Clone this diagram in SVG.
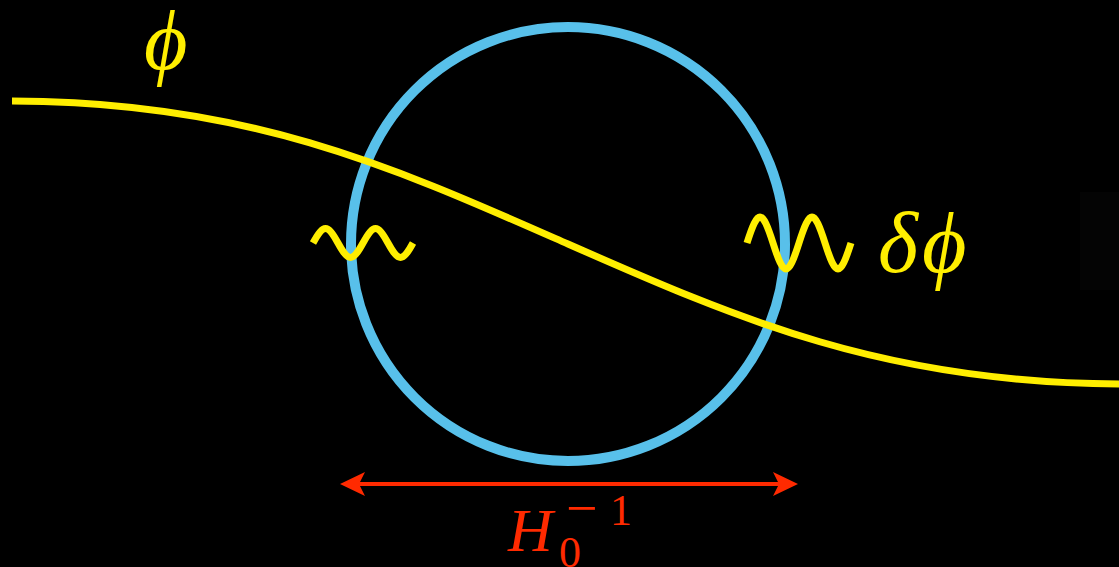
<svg xmlns="http://www.w3.org/2000/svg" width="1119" height="567" viewBox="0 0 1119 567">
<style>
.y{fill:none;stroke:#ffee00;stroke-width:7;stroke-linecap:butt}
.lbl{font-family:"Liberation Serif","DejaVu Serif",serif;font-style:italic}
.rm{font-family:"Liberation Serif","DejaVu Serif",serif;fill:#ff2a00}
</style>
<defs>
<marker id="ah" viewBox="0 0 26 26" refX="22" refY="13" markerWidth="26" markerHeight="26" markerUnits="userSpaceOnUse" orient="auto-start-reverse">
<path d="M26,13 L1,1 L7,13 L1,25 Z" fill="#ff2a00"/>
</marker>
</defs>
<rect width="1119" height="567" fill="#000"/>
<rect x="1080" y="192" width="39" height="98" fill="#040404"/>
<g id="horizon">
<circle cx="568" cy="244" r="217" fill="none" stroke="#58c0ea" stroke-width="10"/>
</g>
<g id="field">
<path class="y" d="M12,101 C250,101 400,170 568,244 C736,318 886,384 1124,384"/>
</g>
<g id="wave-left">
<path class="y" d="M313,243 C323.6,223.7 327.4,223.7 338,243 S352.4,262.3 363,243 S377.4,223.7 388,243 S402.4,262.3 413,243"/>
</g>
<g id="wave-right">
<path class="y" d="M747,243 C758,208.3 762,208.3 773,243 S788,277.7 799,243 S814,208.3 825,243 S840,277.7 851,243"/>
</g>
<g id="connectors">
<line x1="344" y1="484" x2="794" y2="484" stroke="#ff2a00" stroke-width="4" marker-start="url(#ah)" marker-end="url(#ah)"/>
</g>
<g id="label-phi">
<text class="lbl" x="144" y="69" font-size="84" fill="#ffee00">ϕ</text>
</g>
<g id="label-dphi">
<text class="lbl" x="878" y="272" font-size="86" fill="#ffee00" letter-spacing="4">δϕ</text>
</g>
<g id="label-H">
<text class="lbl" x="508" y="551" font-size="62" fill="#ff2a00">H</text>
<text class="rm" x="559" y="567" font-size="44">0</text>
<text class="rm" x="566" y="527" font-size="56">−</text>
<text class="rm" x="610" y="525" font-size="44">1</text>
</g>
</svg>
